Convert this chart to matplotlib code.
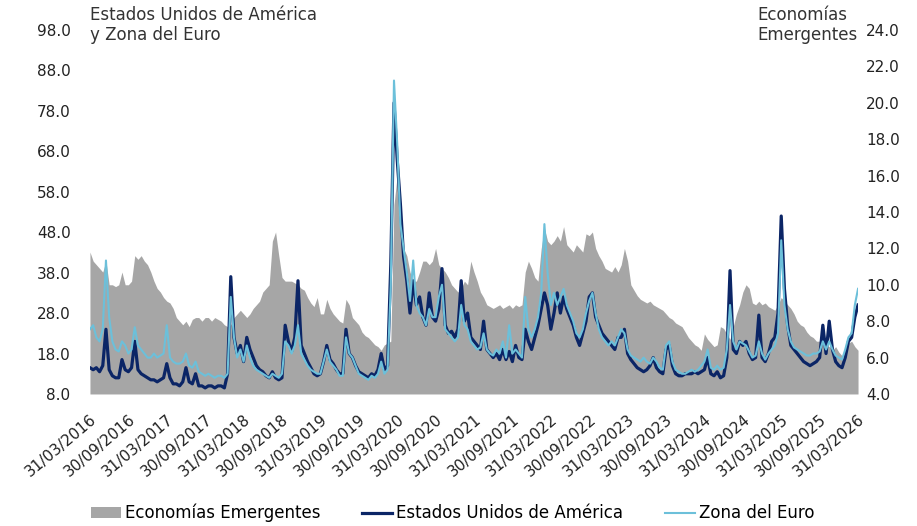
import numpy as np
import pandas as pd
import matplotlib
matplotlib.use("Agg")
import matplotlib.pyplot as plt

plt.rcParams['font.family'] = 'DejaVu Sans'

# semi-monthly readings, 31/03/2016 .. 31/03/2026
start_date = "2016-03-31"
end_date = "2026-03-31"

# Economias Emergentes (right axis)
em = [11.8, 11.3, 11.1, 10.9, 10.7, 11.3, 10.0, 10.0, 9.9, 10.0, 10.7, 10.0, 10.0, 10.2, 11.6, 11.4, 11.6, 11.3, 11.1, 10.7, 10.2, 9.8, 9.6, 9.3,
      9.1, 9.0, 8.7, 8.2, 8.0, 7.8, 8.0, 7.7, 8.1, 8.2, 8.2, 8.0, 8.2, 8.2, 8.0, 8.2, 8.1, 8.0, 7.8, 7.7, 7.8, 8.2, 8.4, 8.6,
      8.4, 8.2, 8.4, 8.7, 8.9, 9.1, 9.6, 9.8, 10.0, 12.4, 12.9, 11.6, 10.4, 10.2, 10.2, 10.2, 10.1, 10.0, 9.8, 9.7, 9.3, 9.0, 8.8, 9.3,
      8.4, 8.4, 9.2, 8.7, 8.4, 8.2, 8.0, 7.9, 9.2, 8.9, 8.2, 8.0, 7.8, 7.4, 7.2, 7.1, 6.9, 6.7, 6.6, 6.4, 6.7, 6.8, 6.9, 14.4,
      16.0, 12.9, 12.0, 11.6, 10.7, 10.2, 10.2, 10.7, 11.3, 11.3, 11.1, 11.3, 12.0, 11.1, 10.9, 10.7, 10.4, 10.0, 9.8, 9.6, 9.8, 10.2, 10.0, 11.3,
      10.7, 10.2, 9.6, 9.3, 8.9, 8.8, 8.7, 8.8, 8.9, 8.7, 8.8, 8.9, 8.7, 8.9, 8.8, 8.9, 10.7, 11.3, 10.9, 10.4, 10.2, 12.0, 13.1, 12.4,
      12.2, 12.4, 12.7, 12.4, 13.2, 12.2, 12.0, 11.8, 12.2, 12.0, 11.8, 12.8, 12.7, 12.9, 12.0, 11.6, 11.3, 10.9, 10.8, 10.7, 11.0, 10.7, 11.1, 12.0,
      11.3, 10.0, 9.7, 9.4, 9.2, 9.1, 9.0, 9.1, 8.9, 8.8, 8.7, 8.6, 8.4, 8.2, 8.1, 7.9, 7.8, 7.7, 7.4, 7.1, 6.9, 6.7, 6.6, 6.4,
      7.3, 7.0, 6.8, 6.6, 6.7, 7.7, 7.6, 7.3, 7.0, 7.7, 8.4, 8.9, 9.6, 10.0, 9.8, 9.0, 8.9, 9.1, 8.9, 9.0, 8.8, 8.7, 8.6, 8.9,
      9.3, 9.1, 8.9, 8.7, 8.4, 8.0, 7.8, 7.7, 7.4, 7.2, 7.1, 6.9, 6.9, 6.8, 6.7, 6.6, 6.4, 6.6, 6.3, 6.1, 6.4, 6.8, 6.9, 6.6,
      6.4]

# Estados Unidos de America (left axis)
usa = [14.5, 14, 14.5, 13.5, 15, 24, 14, 12.5, 12, 12, 16.5, 14, 13.5, 14.5, 21, 14, 13, 12.5, 12, 11.5, 11.5, 11, 11.5, 12,
       15.5, 12, 10.5, 10.5, 10, 11, 14.5, 11, 10.5, 13, 10, 10, 9.5, 10, 10, 9.5, 10, 10, 9.5, 13, 37, 22, 18, 20,
       16, 22, 19, 17, 15, 14, 13.5, 12.5, 12, 13.5, 12, 11.5, 12, 25, 21, 18.5, 22, 36, 20, 18, 16, 14.5, 13, 12.5,
       13, 16, 20, 16.5, 15.5, 14, 13, 13, 24, 18, 17, 15, 13.5, 13, 12.5, 12, 13, 12.5, 14, 18, 14, 15, 40, 80,
       66, 55, 42, 36, 28, 36, 30, 32, 27, 25, 33, 27, 26, 29, 39, 25, 23, 23.5, 22, 24, 36, 26, 28, 22,
       21, 20, 19, 26, 19, 18, 17, 18, 16.5, 19, 16.5, 18.5, 16, 20, 17, 16.5, 24, 21, 19, 22, 25, 29, 33, 30,
       24, 28, 33, 28, 32, 29, 27, 25, 22, 20, 23, 26, 32, 33, 27, 25, 23, 22, 21, 20, 19, 22, 22, 24,
       18, 16.5, 15.5, 14.5, 14, 13.5, 14, 15, 17, 14.5, 13.5, 13, 19, 20, 15, 13, 12.5, 12.5, 13, 13, 13, 13.5, 13, 13.5,
       14, 17, 13, 12.5, 13.5, 12, 12.5, 17, 38.5, 19, 18, 21, 20, 21, 18, 16.5, 17, 27.5, 17, 16, 18, 21, 22, 28,
       52, 34, 25, 20, 19, 18, 17, 16, 15.5, 15, 15.5, 16, 17, 25, 18, 26, 19, 16, 15, 14.5, 17, 21, 22, 27,
       30]

# Zona del Euro (left axis)
eur = [24, 25, 22, 21, 24, 41, 27, 21, 19, 18.5, 21, 20, 18, 19, 24.5, 20, 19, 18, 17, 17, 18, 17, 17.5, 18,
       25, 17, 16, 15.5, 15.5, 16, 18, 15, 14.5, 16, 13.5, 13, 12.5, 13, 12.5, 12, 12.5, 12.5, 12, 13, 32, 22, 17, 19,
       16, 20, 17, 15, 14, 13.5, 13, 12.5, 12, 13, 12.5, 12, 13, 21, 20, 18, 20, 25, 18, 16.5, 15, 14, 13.5, 13,
       13, 16, 19, 16, 15, 14, 12.5, 12.5, 22, 18, 17, 15, 13, 12.5, 12, 11.5, 12.5, 12, 13, 16, 13, 14, 35, 85.5,
       70, 50, 44, 38, 31, 41, 30, 28, 27, 25, 29, 27, 27, 32, 35, 24, 23, 22, 21, 22, 30, 25, 24, 21,
       20, 19, 19.5, 23, 19, 18, 17.5, 19, 18, 21, 17, 25, 18, 19, 18, 17, 32, 24, 22, 24, 27, 33, 50, 38,
       30, 33, 30, 32, 34, 30, 28, 26, 23, 22, 24, 28, 31, 33, 28, 24, 22, 21, 20, 21, 20, 22, 24, 23,
       19, 17.5, 17, 16.5, 16, 17, 16, 15.5, 17, 16, 14.5, 14, 20, 21, 16, 14, 13.5, 13, 13, 13.5, 14, 13.5, 14, 15,
       16, 19, 14.5, 14, 15, 14, 14.5, 19, 30, 21, 19, 21, 20.5, 20, 18.5, 17, 17.5, 21, 18, 16.5, 18, 19, 20, 23,
       46, 30, 24, 21, 19.5, 19, 18.5, 18, 17.5, 17.5, 18, 18, 18.5, 21, 19, 21, 19, 17.5, 17, 16.5, 19, 22, 23, 30,
       34]

tick_labels = ["31/03/2016", "30/09/2016", "31/03/2017", "30/09/2017", "31/03/2018", "30/09/2018",
               "31/03/2019", "30/09/2019", "31/03/2020", "30/09/2020", "31/03/2021", "30/09/2021",
               "31/03/2022", "30/09/2022", "31/03/2023", "30/09/2023", "31/03/2024", "30/09/2024",
               "31/03/2025", "30/09/2025", "31/03/2026"]

dates = pd.to_datetime(np.linspace(pd.Timestamp(start_date).value,
                                   pd.Timestamp(end_date).value, len(usa)))
tick_dates = pd.to_datetime(tick_labels, format="%d/%m/%Y")

fig = plt.figure(figsize=(9.17, 5.26), dpi=100)
ax = fig.add_axes([0.0981, 0.251, 0.8376, 0.692])
ax2 = ax.twinx()

ax2.fill_between(dates, 4, em, color="#A6A6A6", linewidth=0, label="Economías Emergentes")
ax.plot(dates, usa, color="#0B2566", linewidth=2.3, label="Estados Unidos de América")
ax.plot(dates, eur, color="#6CC0DA", linewidth=1.5, label="Zona del Euro")

# lines above the grey area
ax.set_zorder(ax2.get_zorder() + 1)
ax.patch.set_visible(False)

ax.set_xlim(dates[0], dates[-1])
ax.set_ylim(8, 98)
ax2.set_ylim(4, 24)
ax.set_yticks(np.arange(8, 99, 10))
ax.set_yticklabels(["%.1f" % v for v in np.arange(8, 99, 10)])
ax2.set_yticks(np.arange(4, 25, 2))
ax2.set_yticklabels(["%.1f" % v for v in np.arange(4, 25, 2)])
ax.set_xticks(tick_dates)
ax.set_xticklabels(tick_labels, rotation=40, ha="right", va="top", rotation_mode="anchor")

for a in (ax, ax2):
    for s in a.spines.values():
        s.set_visible(False)
ax.tick_params(axis="y", length=0, pad=14, labelsize=11, colors="#222222")
ax.tick_params(axis="x", length=0, pad=13, labelsize=11, colors="#222222")
ax2.tick_params(axis="y", length=0, pad=6, labelsize=11, colors="#222222")

fig.text(0.0981, 0.988, "Estados Unidos de América\ny Zona del Euro", ha="left", va="top",
         fontsize=12, color="#333333", linespacing=1.15)
fig.text(0.9357, 0.988, "Economías\nEmergentes", ha="right", va="top", multialignment="left",
         fontsize=12, color="#333333", linespacing=1.15)

h1, l1 = ax2.get_legend_handles_labels()
h2, l2 = ax.get_legend_handles_labels()
fig.legend(h1 + h2, l1 + l2, loc="center", bbox_to_anchor=(0.4935, 0.025), ncol=3,
           frameon=False, fontsize=12, handlelength=1.8, handletextpad=0.25,
           columnspacing=2.5, handleheight=0.6)

fig.savefig("out.png", dpi=100)
